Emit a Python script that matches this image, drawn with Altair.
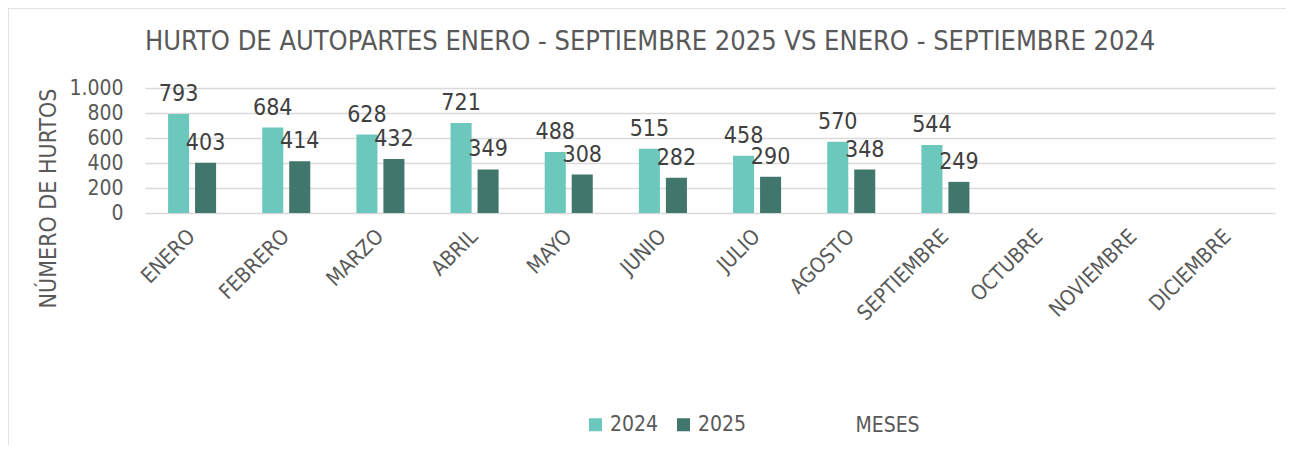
import altair as alt
import pandas as pd

months = ["ENERO", "FEBRERO", "MARZO", "ABRIL", "MAYO", "JUNIO", "JULIO",
          "AGOSTO", "SEPTIEMBRE", "OCTUBRE", "NOVIEMBRE", "DICIEMBRE"]
vals_2024 = [793, 684, 628, 721, 488, 515, 458, 570, 544]
vals_2025 = [403, 414, 432, 349, 308, 282, 290, 348, 249]
years = ["2024", "2025"]
colors = ["#6cc8bc", "#41766d"]

rows = []
for m, v in zip(months, vals_2024):
    rows.append({"mes": m, "anio": "2024", "valor": v})
for m, v in zip(months, vals_2025):
    rows.append({"mes": m, "anio": "2025", "valor": v})
df = pd.DataFrame(rows)

FONT = "DejaVu Sans Condensed, sans-serif"
TXT = "#595959"

x = alt.X("mes:N", sort=months,
          scale=alt.Scale(domain=months, paddingInner=0.49, paddingOuter=0.245),
          axis=alt.Axis(title="MESES", labelAngle=-45, labelAlign="right",
                        labelBaseline="middle", ticks=False, domain=False,
                        labelFontSize=21, labelColor=TXT, labelPadding=20,
                        titleFontSize=21, titleColor=TXT, titleFontWeight="normal",
                        titleX=742, titleY=212, titleAlign="center",
                        titleBaseline="middle", titleAnchor="start"))
xo = alt.XOffset("anio:N", scale=alt.Scale(domain=years, paddingInner=0.22, paddingOuter=0))
y = alt.Y("valor:Q", scale=alt.Scale(domain=[0, 1000]),
          axis=alt.Axis(title="NÚMERO DE HURTOS", values=[0, 200, 400, 600, 800, 1000],
                        labelExpr="datum.value == 1000 ? '1.000' : datum.label",
                        ticks=False, domain=False, gridColor="#d9d9d9", gridWidth=1.5,
                        labelFontSize=21, labelColor=TXT, labelPadding=22,
                        titleFontSize=23, titleColor=TXT, titleFontWeight="normal",
                        titleX=-97, titleY=110, titleAlign="center",
                        titleBaseline="middle", titleAnchor="start"))
color = alt.Color("anio:N", scale=alt.Scale(domain=years, range=colors),
                  legend=alt.Legend(title=None, orient="none", legendX=440, legendY=326,
                                    direction="horizontal", symbolType="square",
                                    symbolSize=170, symbolStrokeWidth=0, labelFontSize=21,
                                    labelColor=TXT, columnPadding=14, labelOffset=4))

bars = alt.Chart(df).mark_bar().encode(x=x, xOffset=xo, y=y, color=color)
labels = alt.Chart(df).mark_text(baseline="alphabetic", dy=-13, fontSize=23,
                                 color="#404040", font=FONT).encode(
    x=x, xOffset=xo, y=y, text="valor:Q")

border_top = alt.Chart(pd.DataFrame({"k": [0]})).mark_rule(color="#d9d9d9", strokeWidth=1.5).encode(
    x=alt.value(-137), x2=alt.value(1160), y=alt.value(-80))
border_left = alt.Chart(pd.DataFrame({"k": [0]})).mark_rule(color="#d9d9d9", strokeWidth=1.5).encode(
    x=alt.value(-137), y=alt.value(-80), y2=alt.value(370))

chart = alt.layer(bars, labels, border_top, border_left).properties(
    width=1130, height=125,
    autosize=alt.AutoSizeParams(type="none"),
    padding={"left": 137, "top": 80, "right": 11, "bottom": 232},
    title=alt.TitleParams("HURTO DE AUTOPARTES ENERO - SEPTIEMBRE 2025 VS ENERO - SEPTIEMBRE 2024",
                          anchor="start", frame="group", fontSize=27, color=TXT,
                          fontWeight="normal", font=FONT, offset=-49),
).configure(font=FONT).configure_view(stroke=None).configure_axis(labelFont=FONT, titleFont=FONT)

chart.save("out.html", embed_options={"renderer": "svg", "actions": False})
